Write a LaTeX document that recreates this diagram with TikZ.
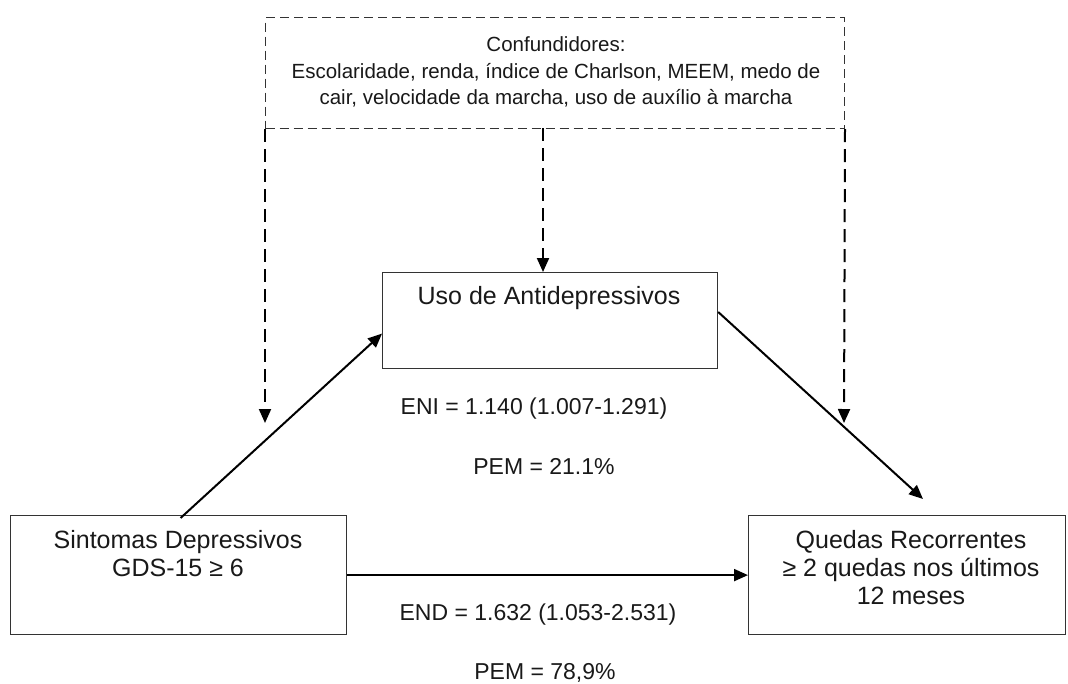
\documentclass[tikz,border=0pt]{standalone}
\usepackage{fontspec}
\setmainfont{Liberation Sans}
\usetikzlibrary{arrows.meta,calc}
\begin{document}
\begin{tikzpicture}[x=1pt,y=-1pt,
  box/.style={draw=black!80, line width=1.2pt, anchor=north west, inner sep=0pt},
  dbox/.style={draw=black!80, line width=1pt, dash pattern=on 9pt off 5pt, anchor=north west, inner sep=0pt},
  boxtxt/.style={font=\fontsize{25}{28}\selectfont, align=center, text=black!90, inner sep=0pt},
  conftxt/.style={font=\fontsize{20.5}{26.5}\selectfont, align=center, text=black!90, inner sep=0pt},
  stat/.style={font=\fontsize{23}{27}\selectfont, text=black!90, inner sep=0pt},
  sarrow/.style={draw=black, line width=2pt, -{Triangle[length=14pt,width=12pt]}},
  darrow/.style={draw=black, line width=2pt, dash pattern=on 13pt off 7pt, -{Triangle[length=14pt,width=12pt]}}
]
\fill[white] (0,0) rectangle (1068,683);
\useasboundingbox (0,0) rectangle (1068,683);

% boxes
\node[dbox, minimum width=579pt, minimum height=111pt] (conf) at (265,17) {};
\node[box, minimum width=335pt, minimum height=96pt] (anti) at (382,272) {};
\node[box, minimum width=336pt, minimum height=119pt] (sint) at (10,515) {};
\node[box, minimum width=317pt, minimum height=119pt] (qued) at (748,515) {};

% texts
\node[conftxt] (conft) at (556,72) {Confundidores:\\Escolaridade, renda, índice de Charlson, MEEM, medo de\\cair, velocidade da marcha, uso de auxílio à marcha};
\node[boxtxt] (antit) at (549,298) {Uso de Antidepressivos};
\node[boxtxt] (sintt) at (178,554) {Sintomas Depressivos\\GDS-15 ≥ 6};
\node[boxtxt] (quedt) at (911,568) {Quedas Recorrentes\\≥ 2 quedas nos últimos\\12 meses};
\node[stat] (eni) at (534,409) {ENI = 1.140 (1.007-1.291)};
\node[stat] (pem1) at (544,467) {PEM = 21.1\%};
\node[stat] (endl) at (538,615) {END = 1.632 (1.053-2.531)};
\node[stat] (pem2) at (545,673) {PEM = 78,9\%};

% coordinates
\coordinate (cl) at (conf.south west);
\coordinate (cr) at (conf.south east);
\coordinate (cm) at (543,128);
\coordinate (tl) at (265,423);
\coordinate (tr) at (844,423);
\coordinate (tq) at (923,499);

% dashed confounder arrows
\draw[darrow] (cl) -- (tl);
\draw[darrow] (cr) -- (tr);
\draw[darrow] (cm) -- (cm |- anti.north);

% solid arrows
\draw[sarrow] ($(sint.north)+(2,3)$) -- ($(anti.west)+(0,13)$);
\draw[sarrow] ($(anti.north east)+(0,40)$) -- (tq);
\draw[sarrow] (sint.east) -- (qued.west);
\end{tikzpicture}
\end{document}
